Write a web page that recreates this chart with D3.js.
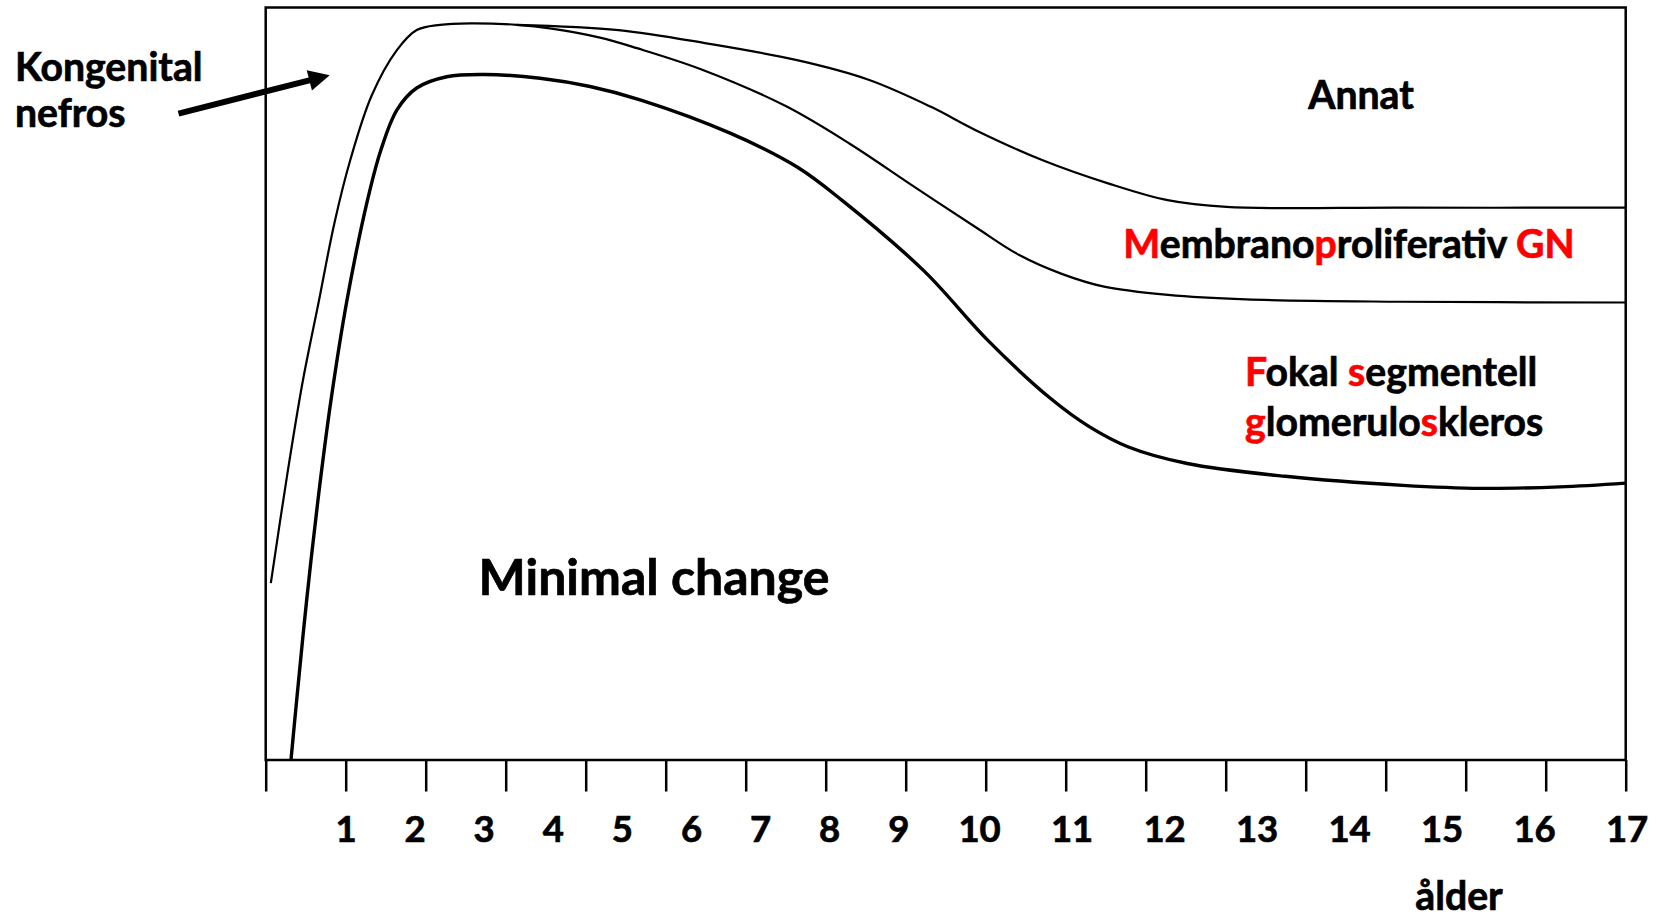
<!DOCTYPE html>
<html>
<head>
<meta charset="utf-8">
<script src="https://cdn.jsdelivr.net/npm/d3@7"></script>
<style>
  html, body { margin: 0; padding: 0; background: #ffffff; }
  svg { display: block; }
  text { font-family: Lato, "Open Sans", sans-serif; font-weight: 700; }
</style>
</head>
<body>
<svg id="chart" width="1665" height="917"></svg>
<script>
// ---------------- DATA ----------------
const tickAges = d3.range(0, 18);
const tickLabels = ["1","2","3","4","5","6","7","8","9","10","11","12","13","14","15","16","17"];

// Boundary: Kongenital nefros -> MPGN | FSGS boundary (thin line)
const kongAge = [0.064, 0.263, 0.461, 0.661, 0.860, 1.059, 1.325, 1.6375, 1.8875, 2.179, 2.554, 3.1375, 3.574, 4.179, 4.64, 5.44, 6.50, 7.30, 8.09, 8.89, 9.42, 9.95, 10.48, 11.28, 12.254, 14.178, 17.0];
const kongPct = [23.5, 37.5, 50.2, 60.8, 71.4, 79.8, 88.3, 94.3, 97.0, 97.7, 97.9, 97.7, 97.2, 96.0, 94.6, 91.8, 86.9, 81.9, 76.3, 70.7, 67.1, 64.6, 62.9, 61.8, 61.2, 60.9, 60.8];

// Boundary: Minimal change upper edge (thick line)
const mcAge = [0.316, 0.3875, 0.5125, 0.654, 0.816, 1.016, 1.2725, 1.441, 1.641, 1.8875, 2.2625, 2.736, 3.429, 4.054, 4.69, 5.806, 6.643, 7.201, 8.228, 9.024, 9.804, 10.294, 10.784, 11.52, 12.745, 14.215, 15.196, 16.176, 17.0];
const mcPct = [0.0, 8.0, 21.3, 34.6, 47.8, 61.1, 74.4, 81.1, 86.4, 89.3, 90.8, 91.1, 90.6, 89.5, 87.7, 83.3, 78.8, 74.4, 65.0, 55.8, 48.1, 44.3, 41.6, 39.4, 37.7, 36.5, 36.1, 36.3, 36.8];

// Boundary: Annat lower edge (thin line)
const annatAge = [3.1375, 4.411, 5.5275, 6.6425, 7.536, 8.316, 8.875, 9.7125, 10.539, 11.274, 12.01, 14.18, 17.0];
const annatPct = [97.7, 97.0, 95.2, 93.0, 90.4, 86.8, 83.7, 79.7, 76.6, 74.4, 73.5, 73.4, 73.4];

// Arrow (Kongenital nefros pointer), in data units
const arrowAge = [-1.09, 0.80];
const arrowPct = [85.9, 91.0];

// Text labels: segments [text, red?]
const labelAnnat = [["Annat", false]];
const labelMPGN = [["M", true], ["embrano", false], ["p", true], ["roliferativ ", false], ["GN", true]];
const labelFSGS1 = [["F", true], ["okal ", false], ["s", true], ["egmentell", false]];
const labelFSGS2 = [["g", true], ["lomerulo", false], ["s", true], ["kleros", false]];
const labelMC = [["Minimal change", false]];
const labelKong1 = [["Kongenital", false]];
const labelKong2 = [["nefros", false]];
const axisTitle = "ålder";

// ---------------- LAYOUT ----------------
const svg = d3.select("#chart");
const x = d3.scaleLinear().domain([0, 17]).range([265.7, 1625.7]);
const y = d3.scaleLinear().domain([0, 100]).range([760, 7.5]);

const RED = "#ff0000";
const FS = 39.2;
const FS_TICK = 36.5;

// frame
svg.append("rect")
  .attr("x", x(0)).attr("y", y(100))
  .attr("width", x(17) - x(0)).attr("height", y(0) - y(100))
  .attr("fill", "none").attr("stroke", "#000").attr("stroke-width", 2.5);

// ticks
const axis = d3.axisBottom(x).tickValues(tickAges).tickSize(31.5).tickSizeOuter(0).tickFormat("");
const gAxis = svg.append("g").attr("transform", `translate(0,${y(0)})`).call(axis);
gAxis.select(".domain").remove();
gAxis.selectAll(".tick line").attr("stroke", "#000").attr("stroke-width", 2.5);

// tick labels (laid out like a spaced text row, as in the original)
const digitW = 23.4, gapW = 45.7, firstCenter = 346;
let pos = firstCenter - digitW / 2;
const labelCenters = tickLabels.map(l => {
  const w = l.length * digitW;
  const c = pos + w / 2;
  pos += w + gapW;
  return c;
});
svg.append("g").selectAll("text").data(tickLabels).join("text")
  .attr("x", (d, i) => labelCenters[i])
  .attr("y", 842)
  .attr("text-anchor", "middle")
  .attr("font-size", FS_TICK)
  .attr("fill", "#000").attr("stroke", "#000").attr("stroke-width", 0.7)
  .text(d => d);

svg.append("text").attr("x", 1459).attr("y", 910).attr("text-anchor", "middle")
  .attr("font-size", FS).attr("fill", "#000").attr("stroke", "#000").attr("stroke-width", 0.7)
  .text(axisTitle);

// curves
const line = d3.line().x(d => x(d[0])).y(d => y(d[1])).curve(d3.curveCatmullRom.alpha(0.5));
const zip = (a, b) => a.map((v, i) => [v, b[i]]);

svg.append("path").datum(zip(annatAge, annatPct)).attr("d", line)
  .attr("fill", "none").attr("stroke", "#000").attr("stroke-width", 2.2);
svg.append("path").datum(zip(kongAge, kongPct)).attr("d", line)
  .attr("fill", "none").attr("stroke", "#000").attr("stroke-width", 2.2);
svg.append("path").datum(zip(mcAge, mcPct)).attr("d", line)
  .attr("fill", "none").attr("stroke", "#000").attr("stroke-width", 3.4);

// arrow
const ax0 = x(arrowAge[0]), ay0 = y(arrowPct[0]), ax1 = x(arrowAge[1]), ay1 = y(arrowPct[1]);
const ang = Math.atan2(ay1 - ay0, ax1 - ax0);
const headL = 21, headW = 10.5;
const bx = ax1 - headL * Math.cos(ang), by = ay1 - headL * Math.sin(ang);
svg.append("line").attr("x1", ax0).attr("y1", ay0).attr("x2", bx + 2 * Math.cos(ang)).attr("y2", by + 2 * Math.sin(ang))
  .attr("stroke", "#000").attr("stroke-width", 6);
svg.append("path")
  .attr("d", `M${ax1},${ay1} L${bx - headW * Math.sin(ang)},${by + headW * Math.cos(ang)} L${bx + headW * Math.sin(ang)},${by - headW * Math.cos(ang)} Z`)
  .attr("fill", "#000");

// labels
function addLabel(segs, xPos, yPos, anchor, size) {
  const t = svg.append("text").attr("x", xPos).attr("y", yPos)
    .attr("text-anchor", anchor).attr("font-size", size);
  segs.forEach(([s, red]) => {
    const c = red ? RED : "#000";
    t.append("tspan").text(s).attr("fill", c).attr("stroke", c).attr("stroke-width", 0.7);
  });
  return t;
}
addLabel(labelKong1, 15, 81, "start", FS);
addLabel(labelKong2, 15, 127, "start", FS);
addLabel(labelAnnat, 1361, 109, "middle", FS);
addLabel(labelMPGN, 1349, 258, "middle", FS);
addLabel(labelFSGS1, 1245, 386, "start", FS);
addLabel(labelFSGS2, 1245, 436, "start", FS);
addLabel(labelMC, 654, 595, "middle", 50);
</script>
</body>
</html>
